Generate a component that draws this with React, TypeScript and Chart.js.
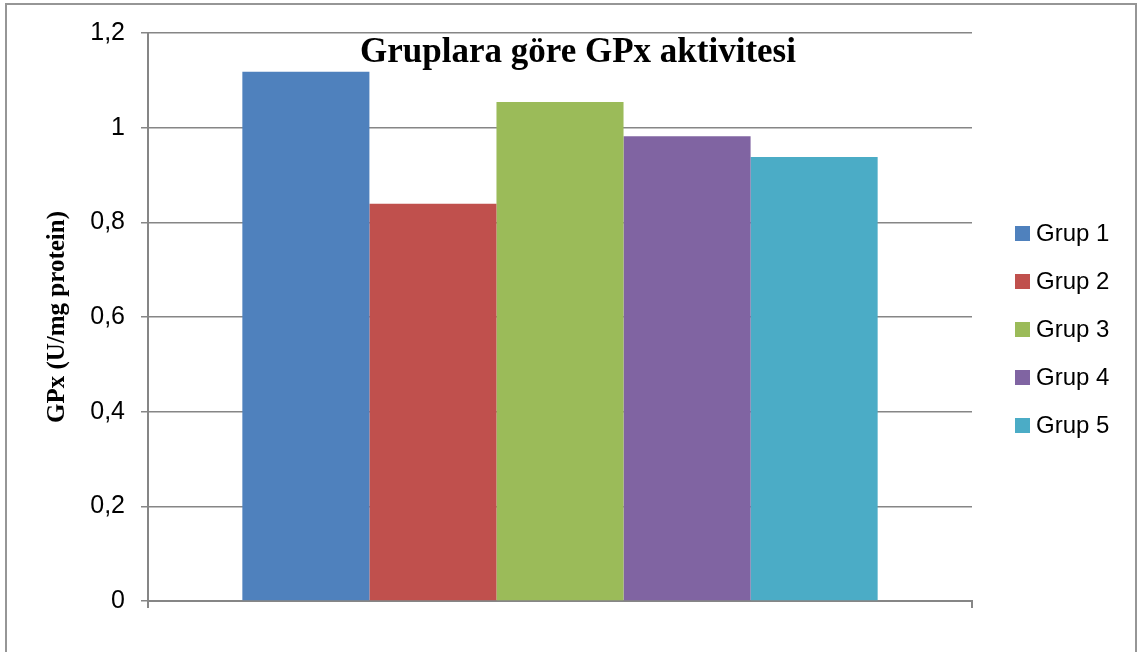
import React, { useEffect, useRef } from "react";
import { Chart, registerables } from "chart.js";

Chart.register(...registerables);

const categories = [""];
const seriesNames = ["Grup 1", "Grup 2", "Grup 3", "Grup 4", "Grup 5"];
const seriesValues = [[1.118], [0.839], [1.054], [0.982], [0.938]];
const seriesColors = ["#4F81BD", "#C0504D", "#9BBB59", "#8064A2", "#4BACC6"];
const chartTitle = "Gruplara göre GPx aktivitesi";
const yAxisTitle = "GPx (U/mg protein)";

const W = 1144;
const H = 652;
const PLOT = { left: 148, top: 33, right: 972, bottom: 601 };
const GRID = "#868686";

const decorPlugin = {
  id: "decor",
  beforeDraw(chart: any) {
    const ctx = chart.ctx;
    ctx.save();
    ctx.fillStyle = "#ffffff";
    ctx.fillRect(0, 0, W, H);
    ctx.strokeStyle = "#969696";
    ctx.lineWidth = 2;
    ctx.strokeRect(6, 4, 1130, 700);
    ctx.restore();
  },
  afterDraw(chart: any) {
    const ctx = chart.ctx;
    ctx.save();
    // title
    ctx.fillStyle = "#000000";
    ctx.font = "bold 35px 'Liberation Serif', 'Times New Roman', serif";
    ctx.textAlign = "center";
    ctx.textBaseline = "alphabetic";
    ctx.fillText(chartTitle, 578, 62);
    // legend
    ctx.font = "24px 'Liberation Sans', Arial, sans-serif";
    ctx.textAlign = "left";
    ctx.textBaseline = "middle";
    chart.data.datasets.forEach((ds: any, i: number) => {
      const cy = 233.5 + i * 48;
      ctx.fillStyle = ds.backgroundColor;
      ctx.fillRect(1015, cy - 7.5, 15, 15);
      ctx.fillStyle = "#000000";
      ctx.fillText(ds.label, 1036, cy + 1);
    });
    ctx.restore();
  },
};

export default function App() {
  const ref = useRef<HTMLCanvasElement | null>(null);

  useEffect(() => {
    document.body.style.margin = "0";
    const canvas = ref.current;
    if (!canvas) return;
    const chart = new Chart(canvas, {
      type: "bar",
      data: {
        labels: categories,
        datasets: seriesNames.map((name, i) => ({
          label: name,
          data: seriesValues[i],
          backgroundColor: seriesColors[i],
          borderWidth: 0,
          barPercentage: 1,
          categoryPercentage: 0.771,
        })),
      },
      options: {
        animation: false,
        responsive: false,
        maintainAspectRatio: false,
        devicePixelRatio: 1,
        layout: {
          padding: { left: 0, top: PLOT.top, right: W - PLOT.right, bottom: 0 },
        },
        plugins: {
          legend: { display: false },
          title: { display: false },
          tooltip: { enabled: false },
        },
        scales: {
          x: {
            offset: true,
            grid: {
              display: true,
              offset: true,
              drawOnChartArea: false,
              drawTicks: true,
              tickLength: 7,
              color: GRID,
              lineWidth: 2,
            },
            border: { display: true, color: GRID, width: 2 },
            ticks: { display: true, font: { size: 1 } },
            afterFit(scale: any) {
              scale.height = H - PLOT.bottom;
            },
          },
          y: {
            min: 0,
            max: 1.2,
            ticks: {
              stepSize: 0.2,
              padding: 16,
              color: "#000000",
              font: { family: "'Liberation Sans', Arial, sans-serif", size: 25 },
              callback: (v: any) => String(Number(Number(v).toFixed(1))).replace(".", ","),
            },
            grid: {
              color: GRID,
              lineWidth: 1.5,
              tickLength: 7,
              drawTicks: true,
            },
            border: { display: true, color: GRID, width: 2 },
            title: {
              display: true,
              text: yAxisTitle,
              color: "#000000",
              padding: { top: 43, bottom: 0 },
              font: {
                family: "'Liberation Serif', 'Times New Roman', serif",
                size: 25,
                weight: "bold",
                lineHeight: 1.2,
              },
            },
            afterFit(scale: any) {
              scale.width = PLOT.left;
            },
          },
        },
      },
      plugins: [decorPlugin],
    });
    return () => chart.destroy();
  }, []);

  return (
    <div style={{ position: "absolute", left: 0, top: 0, width: W, height: H }}>
      <canvas ref={ref} width={W} height={H} style={{ width: W, height: H, display: "block" }} />
    </div>
  );
}
